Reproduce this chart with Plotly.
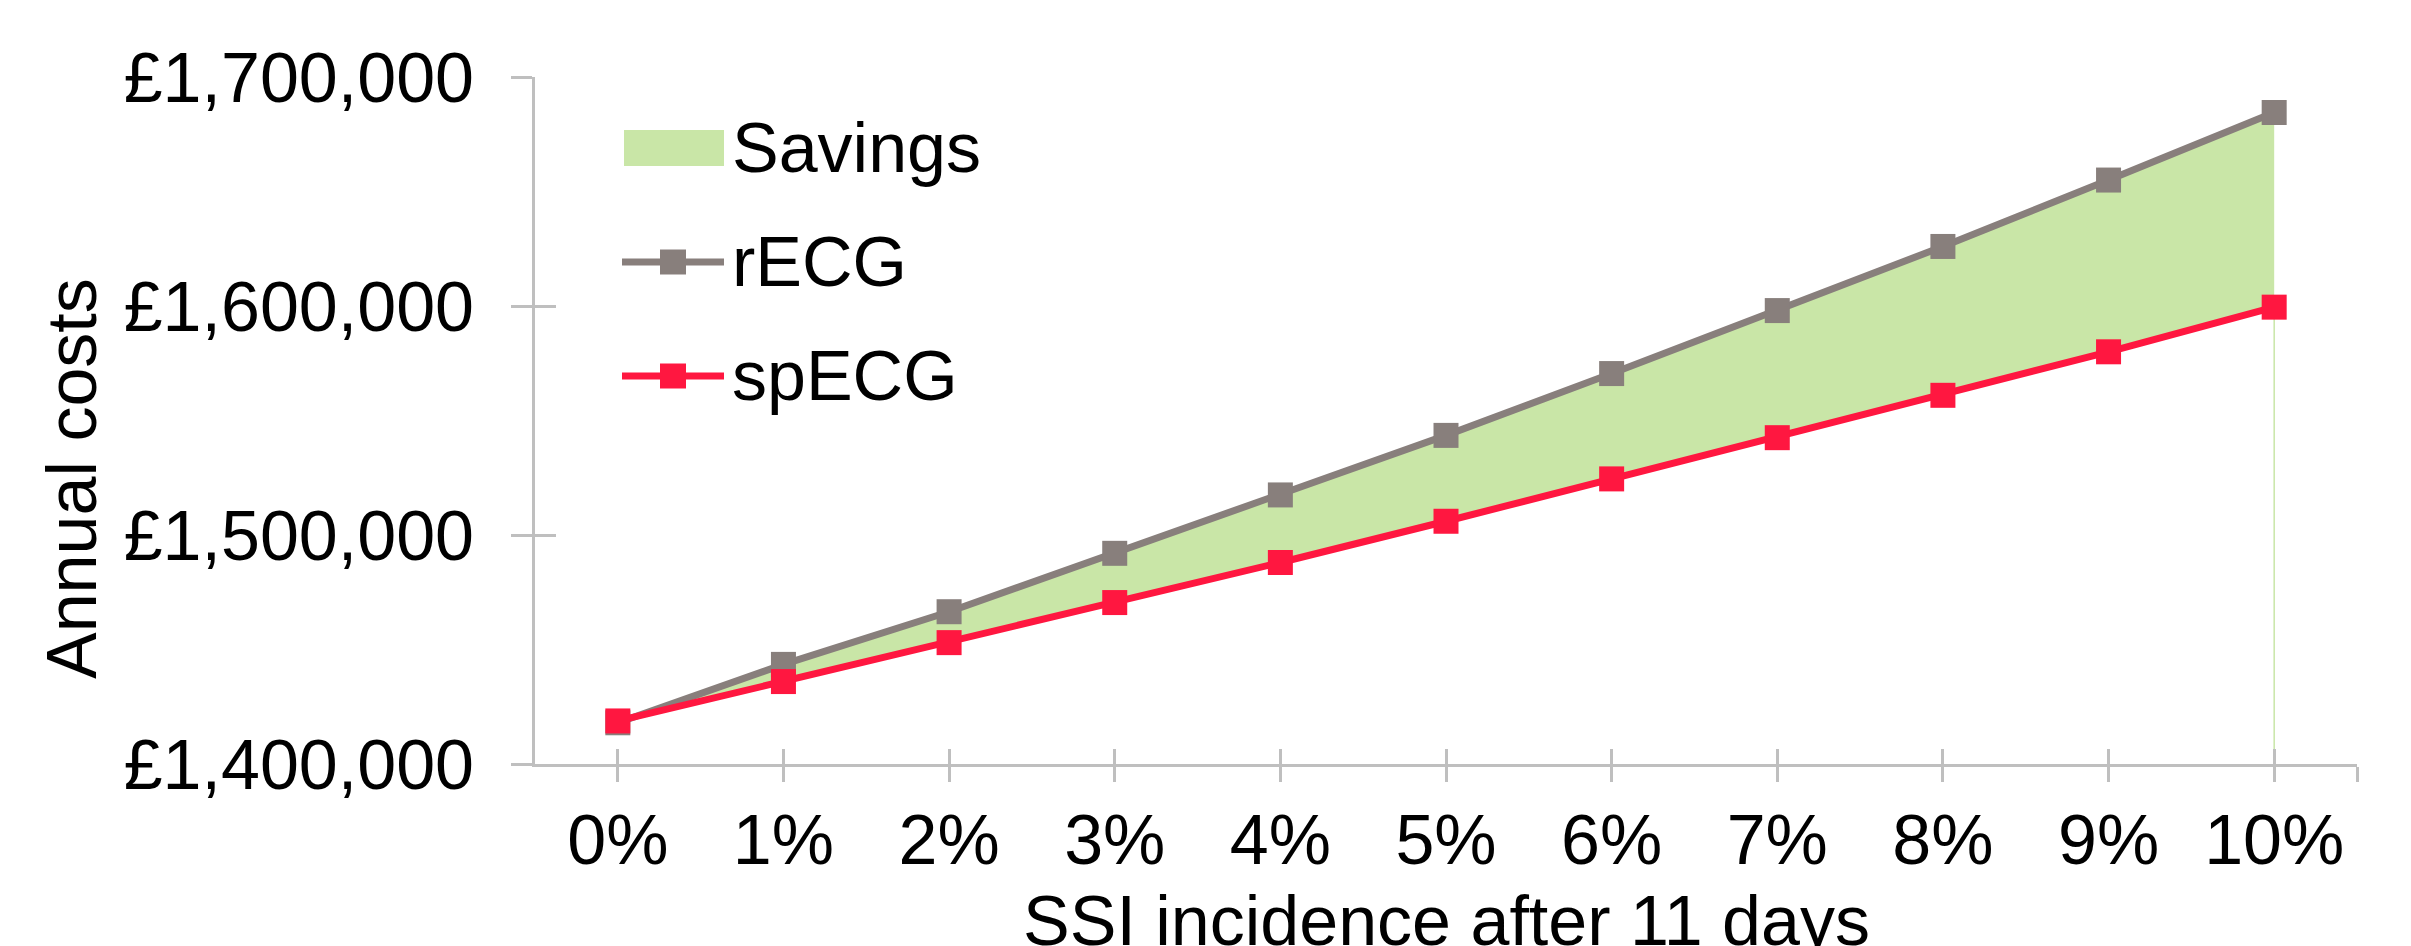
import plotly.graph_objects as go

# ---- data ----
ssi_pct = [0, 1, 2, 3, 4, 5, 6, 7, 8, 9, 10]
x_tick_labels = ["0%", "1%", "2%", "3%", "4%", "5%", "6%", "7%", "8%", "9%", "10%"]
recg = [1418000, 1443500, 1466500, 1492000, 1517500, 1543500, 1570500, 1598000, 1626000, 1655000, 1684500]
specg = [1418800, 1436000, 1453000, 1470500, 1488000, 1506000, 1524500, 1542500, 1561000, 1580000, 1599500]
y_tick_vals = [1400000, 1500000, 1600000, 1700000]
y_range = [1400000, 1700000]
x_range = [-0.5, 10.5]
series_names = ["Savings", "rECG", "spECG"]
x_title = "SSI incidence after 11 days"
y_title = "Annual costs"

# ---- style ----
W, H = 2411, 946
L, R, T, B = 535, 54, 77, 182
PW, PH = W - L - R, H - T - B
FONT = "Liberation Sans, Arial, sans-serif"
FS = 70
GREEN = "#C9E6A7"
GRAY = "#887F7C"
RED = "#FF1740"
AXIS = "#BFBFBF"


def px_x(px):
    return (px - L) / PW


def px_y(py):
    return (H - B - py) / PH


x_tickvals = ssi_pct + [x_range[1]]
x_ticktext = x_tick_labels + [""]
y_ticktext = ["£{:,}".format(v) for v in y_tick_vals]

fig = go.Figure()

# invisible base for the stacked "Savings" area
fig.add_trace(go.Scatter(x=ssi_pct, y=specg, mode="lines", line=dict(width=0),
                         showlegend=False, hoverinfo="skip"))
fig.add_trace(go.Scatter(x=ssi_pct, y=recg, mode="lines", fill="tonexty", fillcolor=GREEN,
                         line=dict(width=0, color=GREEN), name=series_names[0], showlegend=False))
# thin area edge at the last category (Excel artefact)
fig.add_trace(go.Scatter(x=[ssi_pct[-1], ssi_pct[-1]], y=[y_range[0], specg[-1]], mode="lines",
                         line=dict(width=1.5, color=GREEN), showlegend=False, hoverinfo="skip"))
fig.add_trace(go.Scatter(x=ssi_pct, y=recg, mode="lines+markers", name=series_names[1],
                         line=dict(color=GRAY, width=7),
                         marker=dict(symbol="square", size=25, color=GRAY), showlegend=False))
fig.add_trace(go.Scatter(x=ssi_pct, y=specg, mode="lines+markers", name=series_names[2],
                         line=dict(color=RED, width=7),
                         marker=dict(symbol="square", size=25, color=RED), showlegend=False))
# helper trace so the overlay axes (inner tick halves) are drawn
fig.add_trace(go.Scatter(x=ssi_pct, y=specg, xaxis="x2", yaxis="y2", mode="markers",
                         marker=dict(opacity=0), showlegend=False, hoverinfo="skip"))

# ---- legend (drawn as in the reference: patch / line+square symbols) ----
shapes = []
annotations = []
rows_y = [148, 262, 376]          # px centres of legend rows
sym_x0, sym_x1 = 622, 724          # symbol extent
text_x = 730
shapes.append(dict(type="rect", xref="paper", yref="paper",
                   x0=px_x(sym_x0 + 2), x1=px_x(sym_x1), y0=px_y(rows_y[0] - 18), y1=px_y(rows_y[0] + 18),
                   fillcolor=GREEN, line=dict(width=0)))
for row, col in zip(rows_y[1:], [GRAY, RED]):
    shapes.append(dict(type="line", xref="paper", yref="paper",
                       x0=px_x(sym_x0), x1=px_x(sym_x1), y0=px_y(row), y1=px_y(row),
                       line=dict(color=col, width=7)))
    cx = (sym_x0 + sym_x1) / 2
    shapes.append(dict(type="rect", xref="paper", yref="paper",
                       x0=px_x(cx - 13), x1=px_x(cx + 13), y0=px_y(row - 12.5), y1=px_y(row + 12.5),
                       fillcolor=col, line=dict(width=0)))
for row, name in zip(rows_y, series_names):
    annotations.append(dict(text=name, xref="paper", yref="paper", x=px_x(text_x), y=px_y(row),
                            xanchor="left", yanchor="middle", showarrow=False,
                            font=dict(size=FS)))

# axis titles
annotations.append(dict(text=y_title, textangle=-90, xref="paper", yref="paper",
                        x=px_x(72), y=px_y(478), xanchor="center", yanchor="middle",
                        showarrow=False, font=dict(size=FS)))
annotations.append(dict(text=x_title, xref="paper", yref="paper",
                        x=0.5, y=px_y(921), xanchor="center", yanchor="middle",
                        showarrow=False, font=dict(size=FS)))

fig.update_layout(
    width=W, height=H,
    margin=dict(l=L, r=R, t=T, b=B, pad=0, autoexpand=False),
    paper_bgcolor="white", plot_bgcolor="white",
    font=dict(family=FONT, size=FS, color="black"),
    showlegend=False,
    xaxis=dict(range=x_range, tickvals=x_tickvals, ticktext=x_ticktext,
               showline=True, linecolor=AXIS, linewidth=3,
               ticks="outside", ticklen=15, tickwidth=3, tickcolor=AXIS,
               showgrid=False, zeroline=False, automargin=False,
               ticklabelstandoff=-2, tickfont=dict(size=FS)),
    yaxis=dict(range=y_range, tickvals=y_tick_vals, ticktext=y_ticktext,
               showline=True, linecolor=AXIS, linewidth=3,
               ticks="outside", ticklen=21, tickwidth=3, tickcolor=AXIS,
               showgrid=False, zeroline=False, automargin=False,
               ticklabelstandoff=23, tickfont=dict(size=FS)),
    xaxis2=dict(overlaying="x", range=x_range, tickvals=x_tickvals, showticklabels=False,
                ticks="inside", ticklen=15, tickwidth=3, tickcolor=AXIS,
                showline=False, showgrid=False, zeroline=False, automargin=False),
    yaxis2=dict(overlaying="y", range=y_range, tickvals=y_tick_vals, showticklabels=False,
                ticks="inside", ticklen=21, tickwidth=3, tickcolor=AXIS,
                showline=False, showgrid=False, zeroline=False, automargin=False),
    shapes=shapes,
    annotations=annotations,
)

fig.write_html("out.html", config={"displayModeBar": False},
               post_script="document.body.style.margin='0';document.body.style.overflow='hidden';")
